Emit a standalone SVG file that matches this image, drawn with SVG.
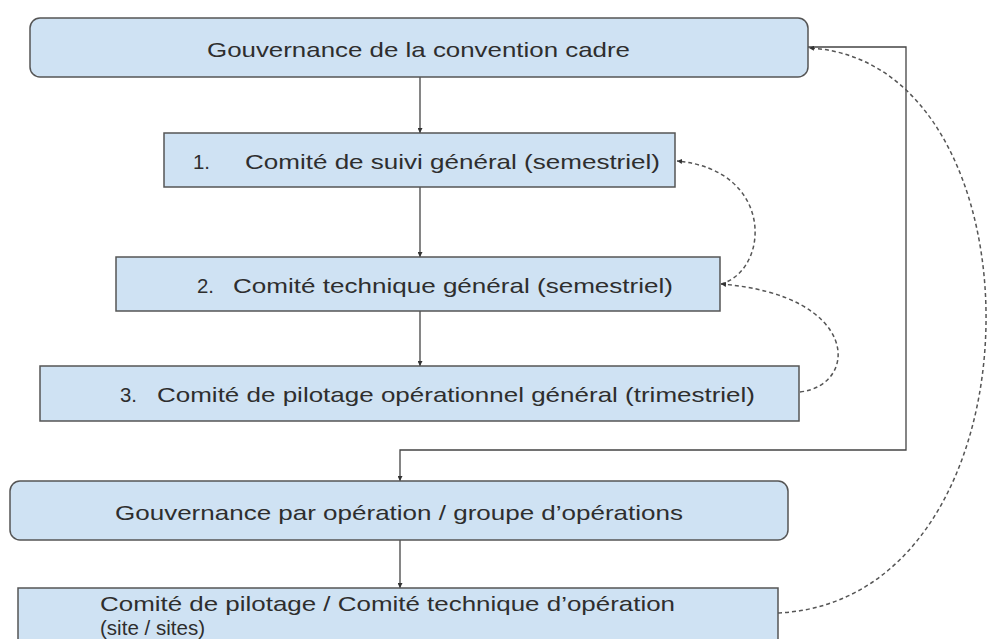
<svg xmlns="http://www.w3.org/2000/svg" width="995" height="639" viewBox="0 0 995 639">
<style>
.box{fill:#cfe2f3;stroke:#555;stroke-width:1.5}
.t{font-family:"Liberation Sans",Arial,sans-serif;font-size:21px;fill:#2e2e2e}
.solid{fill:none;stroke:#444;stroke-width:1.3}
.dash{fill:none;stroke:#555;stroke-width:1.5;stroke-dasharray:4 3}
</style>
<defs>
<marker id="ah" viewBox="0 0 10 10" refX="10" refY="5" markerWidth="5" markerHeight="5" orient="auto" markerUnits="userSpaceOnUse">
<path d="M0,0 L10,5 L0,10 z" fill="#333"/>
</marker>
</defs>
<rect width="995" height="639" fill="#fff"/>
<g id="connectors">
<line class="solid" x1="420" y1="77" x2="420" y2="133" marker-end="url(#ah)"/>
<line class="solid" x1="420" y1="187" x2="420" y2="257" marker-end="url(#ah)"/>
<line class="solid" x1="420" y1="311" x2="420" y2="366" marker-end="url(#ah)"/>
<path class="solid" d="M808 47 H906 V450 H400 V481" marker-end="url(#ah)"/>
<line class="solid" x1="400" y1="540" x2="400" y2="588" marker-end="url(#ah)"/>
<path class="dash" d="M721 284 C770 270 775 170 677 161" marker-end="url(#ah)"/>
<path class="dash" d="M800 392 C860 385 860 295 721 284" marker-end="url(#ah)"/>
<path class="dash" d="M778 613 C1050 600 1050 60 809 48" marker-end="url(#ah)"/>
</g>
<g id="gov-cadre">
<rect class="box" x="30" y="18" width="778" height="59" rx="10"/>
<text class="t" x="207" y="57" textLength="423" lengthAdjust="spacingAndGlyphs">Gouvernance de la convention cadre</text>
</g>
<g id="comite-suivi">
<rect class="box" x="164" y="133" width="511" height="54"/>
<text class="t" x="193" y="169" textLength="17" lengthAdjust="spacingAndGlyphs">1.</text>
<text class="t" x="245" y="169" textLength="415" lengthAdjust="spacingAndGlyphs">Comité de suivi général (semestriel)</text>
</g>
<g id="comite-technique">
<rect class="box" x="116" y="257" width="604" height="54"/>
<text class="t" x="197" y="293" textLength="17" lengthAdjust="spacingAndGlyphs">2.</text>
<text class="t" x="233" y="293" textLength="440" lengthAdjust="spacingAndGlyphs">Comité technique général (semestriel)</text>
</g>
<g id="comite-pilotage">
<rect class="box" x="40" y="366" width="759" height="55"/>
<text class="t" x="120" y="402" textLength="17" lengthAdjust="spacingAndGlyphs">3.</text>
<text class="t" x="157" y="402" textLength="598" lengthAdjust="spacingAndGlyphs">Comité de pilotage opérationnel général (trimestriel)</text>
</g>
<g id="gov-operation">
<rect class="box" x="10" y="481" width="778" height="59" rx="10"/>
<text class="t" x="115" y="520" textLength="568" lengthAdjust="spacingAndGlyphs">Gouvernance par opération / groupe d’opérations</text>
</g>
<g id="comite-operation">
<rect class="box" x="18" y="588" width="760" height="80"/>
<text class="t" x="100" y="611" font-size="19" textLength="575" lengthAdjust="spacingAndGlyphs">Comité de pilotage / Comité technique d’opération</text>
<text class="t" x="100" y="635" font-size="18" textLength="105" lengthAdjust="spacingAndGlyphs">(site / sites)</text>
</g>
</svg>
